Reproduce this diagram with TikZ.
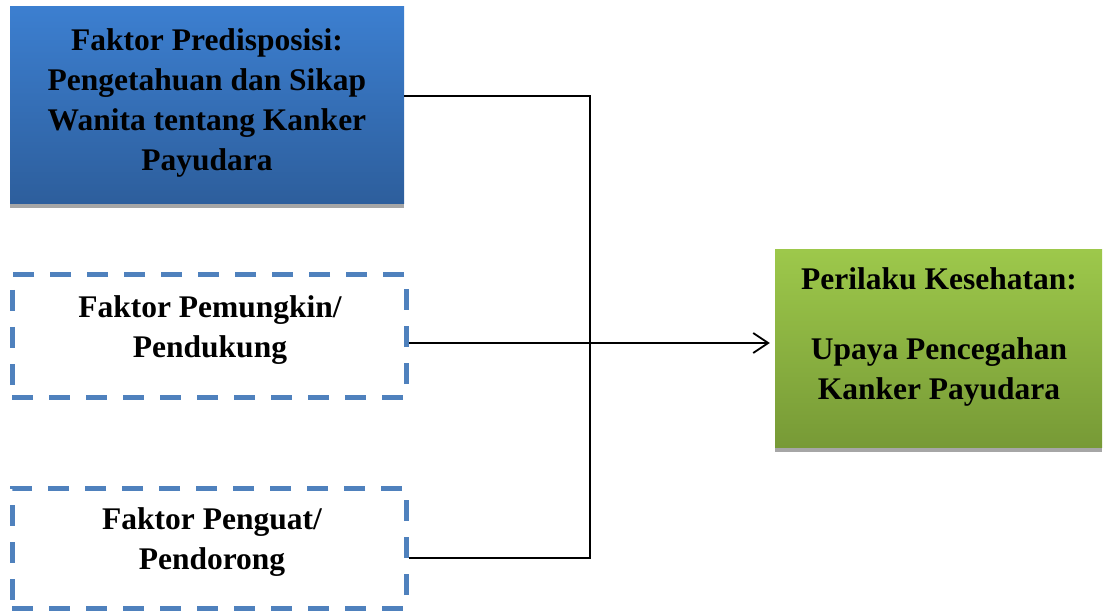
\documentclass[tikz,border=0pt]{standalone}
\usepackage{fontspec}
\setmainfont{Liberation Serif}
\usetikzlibrary{arrows.meta,shadows,calc}
\definecolor{bluetop}{RGB}{60,127,208}
\definecolor{bluebot}{RGB}{45,94,156}
\definecolor{greentop}{RGB}{157,200,75}
\definecolor{greenbot}{RGB}{119,154,54}
\definecolor{dashblue}{RGB}{79,129,189}
\definecolor{shadowgray}{RGB}{166,166,166}
\begin{document}
\begin{tikzpicture}[x=1pt,y=-1pt,
  boxtext/.style={font=\bfseries\fontsize{31.5}{40}\selectfont, align=center, text=black, inner sep=0pt},
  solidbox/.style={draw=none, minimum width=#1, inner sep=0pt,
     general shadow={fill=shadowgray, shadow yshift=-4.5pt}},
  dashbox/.style={draw=dashblue, line width=5pt, dash pattern=on 21pt off 16pt, inner sep=0pt},
  link/.style={draw=black, line width=1.8pt},
  arr/.style={link, -{Straight Barb[length=15pt,width=20pt,line width=1.8pt]}, shorten >=5pt}
]
\useasboundingbox (0,0) rectangle (1103,612);
% blue box
\node[solidbox=394pt, minimum height=197pt, top color=bluetop, bottom color=bluebot] (pre) at (207,105.5) {};
\node[boxtext] (pretext) at (207,103) {Faktor Predisposisi:\\Pengetahuan dan Sikap\\Wanita tentang Kanker\\Payudara};
% dashed boxes
\node[dashbox, minimum width=394pt, minimum height=122pt] (pem) at (209,336) {};
\node[boxtext] (pemtext) at (210,330) {Faktor Pemungkin/\\Pendukung};
\node[dashbox, minimum width=394pt, minimum height=120pt] (peng) at (209,548) {};
\node[boxtext] (pengtext) at (212,542) {Faktor Penguat/\\Pendorong};
% green box
\node[solidbox=327pt, minimum height=197pt, top color=greentop, bottom color=greenbot] (per) at (938.5,348.5) {};
\node[boxtext] (pertext) at (939,337) {Perilaku Kesehatan:\\[30pt]Upaya Pencegahan\\Kanker Payudara};
% connectors
\coordinate (top) at (590,96);
\coordinate (junc) at (590,343);
\coordinate (bot) at (590,558);
\draw[link] (pre.east |- top) -- (top) -- (bot) -- (peng.east |- bot);
\draw[arr] (pem.east |- junc) -- (per.west |- junc);
\end{tikzpicture}
\end{document}
